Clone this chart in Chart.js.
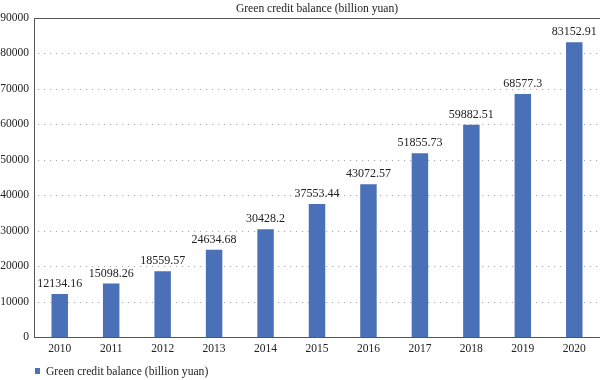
<!DOCTYPE html>
<html><head><meta charset="utf-8">
<script src="https://cdn.jsdelivr.net/npm/chart.js@4/dist/chart.umd.min.js"></script>
<style>html,body{margin:0;padding:0;background:#fff}#wrap{width:600px;height:380px}</style>
</head><body><div id="wrap"><canvas id="c" width="600" height="380"></canvas></div>
<script>
const categories = ['2010','2011','2012','2013','2014','2015','2016','2017','2018','2019','2020'];
const values = [12134.16,15098.26,18559.57,24634.68,30428.2,37553.44,43072.57,51855.73,59882.51,68577.3,83152.91];
const valueLabels = ['12134.16','15098.26','18559.57','24634.68','30428.2','37553.44','43072.57','51855.73','59882.51','68577.3','83152.91'];
const seriesName = 'Green credit balance (billion yuan)';
const titleText = 'Green credit balance (billion yuan)';
const yMax = 90000, yStep = 10000;

const SERIF = '"Liberation Serif","Times New Roman",serif';
const BAR = '#4A70B8';

const gridPlugin = {
  id:'grid',
  beforeDatasetsDraw(chart){
    const {ctx, chartArea:a, scales:{y}} = chart;
    ctx.save();
    ctx.strokeStyle = '#aaa'; ctx.lineWidth = 1; ctx.setLineDash([1.2,4.8]);
    y.ticks.forEach(t=>{
      if (t.value===0 || t.value===yMax) return;
      const py = Math.round(y.getPixelForValue(t.value))+0.5;
      ctx.beginPath(); ctx.moveTo(a.left+4, py); ctx.lineTo(a.right, py); ctx.stroke();
    });
    ctx.setLineDash([]);
    ctx.strokeStyle = '#555';
    const top = Math.round(y.getPixelForValue(yMax))+0.5;
    ctx.beginPath(); ctx.moveTo(a.left, top); ctx.lineTo(a.right, top); ctx.stroke();
    // title centred over the plot area
    ctx.fillStyle = '#222'; ctx.font = '11.6px '+SERIF; ctx.textAlign='center'; ctx.textBaseline='middle';
    ctx.fillText(titleText, (a.left+a.right)/2, 8.5);
    ctx.restore();
  },
  afterDatasetsDraw(chart){
    const {ctx} = chart;
    const meta = chart.getDatasetMeta(0);
    ctx.save();
    ctx.fillStyle = '#222'; ctx.font = '12px '+SERIF; ctx.textAlign='center'; ctx.textBaseline='bottom';
    meta.data.forEach((el,i)=>{ ctx.fillText(valueLabels[i], el.x, el.y-4); });
    // legend
    const ly = 371;
    ctx.fillStyle = BAR; ctx.fillRect(35, ly-3, 5, 6);
    ctx.fillStyle = '#222'; ctx.font = '11.6px '+SERIF; ctx.textAlign='left'; ctx.textBaseline='middle';
    ctx.fillText(chart.data.datasets[0].label, 46, ly+0.5);
    ctx.restore();
  }
};

new Chart(document.getElementById('c'), {
  type:'bar',
  data:{ labels: categories, datasets:[{ label: seriesName, data: values, backgroundColor: BAR, barPercentage:0.32, categoryPercentage:1 }]},
  options:{
    responsive:false, animation:false, devicePixelRatio:1,
    layout:{ padding:{ left:0, right:0, top:18, bottom:23 } },
    plugins:{ legend:{ display:false }, tooltip:{ enabled:false }, title:{ display:false } },
    scales:{
      x:{
        grid:{ display:false, drawTicks:false },
        border:{ display:true, color:'#555', width:1 },
        ticks:{ color:'#222', font:{ family:SERIF, size:11.5 }, padding:5, maxRotation:0 },
        afterFit(s){ s.height = 20; }
      },
      y:{
        min:0, max:yMax,
        grid:{ display:false, drawTicks:false },
        border:{ display:true, color:'#555', width:1 },
        ticks:{ stepSize:yStep, color:'#222', font:{ family:SERIF, size:11.5 }, padding:5, callback:v=>String(v) },
        afterFit(s){ s.width = 34; }
      }
    }
  },
  plugins:[gridPlugin]
});
</script></body></html>
